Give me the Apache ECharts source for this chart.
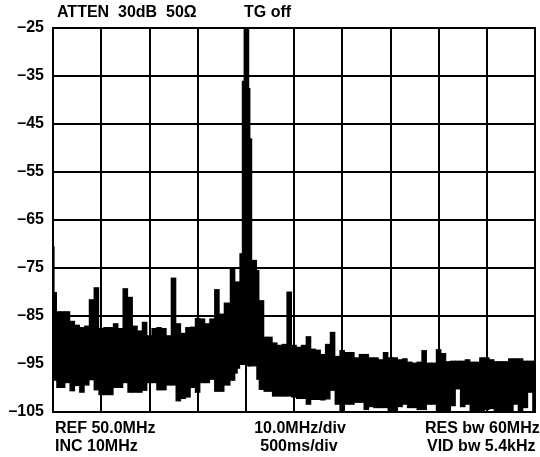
<!DOCTYPE html>
<html>
<head>
<meta charset="utf-8">
<script src="https://cdn.jsdelivr.net/npm/echarts@6/dist/echarts.min.js"></script>
<style>
  html, body { margin: 0; padding: 0; background: #fff; }
  #chart { width: 540px; height: 457px; }
</style>
</head>
<body>
<div id="chart"></div>
<script>
// Frequency points (MHz) of the trace
const freq = [
  10, 10.5, 11, 12, 13, 14, 15, 16, 17, 18, 19,
  20, 21, 22, 23, 24, 25, 26, 27, 28, 29,
  30, 31, 32, 33, 34, 35, 36, 37, 38, 39,
  40, 41, 42, 43, 44, 45, 46, 46.5, 47, 47.5,
  48, 48.5, 49, 49.5, 49.75, 50, 50.25, 50.5, 50.75, 51,
  51.5, 52, 52.5, 53, 53.5, 54, 55, 56, 57, 58,
  59, 60, 61, 62, 63, 64, 65, 66, 67, 68,
  69, 70, 71, 72, 73, 74, 75, 76, 77, 78,
  79, 80, 81, 82, 83, 84, 85, 86, 87, 88,
  89, 90, 91, 92, 93, 94, 95, 96, 97, 98,
  99, 100, 101, 102, 103, 104, 105, 106, 107, 108,
  109, 110
];
// Upper envelope of the noisy trace (dB)
const upperDb = [
  -70.5, -80, -84, -84, -84, -86, -86.8, -87.3, -87, -81.5, -79,
  -87.5, -87.3, -87.3, -86.5, -87.5, -79.2, -81, -87, -88, -86.2,
  -89, -87.5, -87.3, -87.5, -89, -77, -86.5, -88.5, -87.3, -87.2,
  -85.4, -85.5, -86.5, -85.5, -79.4, -84.5, -82.2, -82.2, -75.2, -75.2,
  -77.8, -77.8, -71.9, -36, -25, -25, -25, -25, -37.5, -48,
  -73.3, -73.3, -75.4, -81.7, -81.7, -89.3, -89.3, -90.5, -91, -90.8,
  -79.9, -91, -91.4, -91, -89.2, -91.8, -92, -92.9, -90.8, -88.3,
  -93.3, -92.1, -92.5, -92.5, -93.6, -92.9, -92.9, -93.6, -93.6, -94,
  -92.5, -93.6, -93.6, -94, -93.8, -94.5, -94.7, -94.5, -92.1, -94.7,
  -94.7, -91.9, -92.7, -94.4, -94.3, -94.3, -94.3, -94, -94.5, -94.5,
  -93.6, -93.6, -94, -94.4, -94.4, -94.4, -93.8, -93.8, -93.8, -94.3,
  -94.3, -94.3
];
// Lower envelope of the noisy trace (dB)
const lowerDb = [
  -97.3, -98.5, -100, -100, -99, -100.7, -99.6, -101, -99.5, -98.4, -100.5,
  -101.5, -101.5, -101.5, -100, -100, -99, -101, -101, -101, -100.6,
  -99, -99, -100.5, -100.5, -99.5, -99.5, -102.8, -102.3, -102, -100,
  -101, -99, -99, -98.3, -100.8, -100.8, -99.5, -99.5, -98.5, -98.5,
  -97, -96, -95, -94.8, -95, -95, -95, -95.5, -95.5, -95.5,
  -95.5, -95.5, -98.3, -100.4, -100.4, -100.8, -100.8, -101.8, -101.8, -101.8,
  -101.8, -102, -102.3, -102.3, -103.5, -102.5, -102.5, -102.6, -102.4, -100.6,
  -103.5, -105, -103.5, -103.5, -103.1, -103.1, -104.6, -104, -104.2, -104.2,
  -104.2, -105, -105, -104, -103.5, -104.2, -104.2, -104.6, -104.6, -103.5,
  -103.5, -105, -105, -105, -103.8, -100.3, -104, -103.5, -105, -104.8,
  -104.8, -104.6, -104.4, -105, -105, -105, -105, -103.5, -105, -104.2,
  -101, -105
];
// Axis ticks
const yTicks = [-105, -95, -85, -75, -65, -55, -45, -35, -25];
const xRange = [10, 110];
const xStep = 10;

// Annotation texts
const topLeftText = 'ATTEN  30dB  50\u03A9';
const topMidText = 'TG off';
const bottomTexts = [
  ['REF 50.0MHz', 'INC 10MHz'],
  ['10.0MHz/div', '500ms/div'],
  ['RES bw 60MHz', 'VID bw 5.4kHz']
];

const font = 'bold 16px "Liberation Sans", Arial, sans-serif';

// Each trace sample becomes a cell spanning half way to its neighbours
const traceData = freq.map((f, i) => {
  const left = i === 0 ? f : (freq[i - 1] + f) / 2;
  const right = i === freq.length - 1 ? f : (freq[i + 1] + f) / 2;
  return [f, lowerDb[i], upperDb[i], left, right];
});

const chart = echarts.init(document.getElementById('chart'), null, { renderer: 'canvas' });
chart.setOption({
  animation: false,
  backgroundColor: '#fff',
  grid: {
    left: 53, top: 28, width: 482, height: 384,
    show: true, borderColor: '#000', borderWidth: 2, backgroundColor: 'transparent'
  },
  xAxis: {
    type: 'value', min: xRange[0], max: xRange[1], interval: xStep,
    axisLine: { show: false }, axisTick: { show: false }, axisLabel: { show: false },
    splitLine: { show: true, lineStyle: { color: '#000', width: 2 } }
  },
  yAxis: {
    type: 'value', min: yTicks[0], max: yTicks[yTicks.length - 1], interval: 10,
    axisLine: { show: false }, axisTick: { show: false },
    axisLabel: {
      margin: 9, color: '#000', fontSize: 16, fontWeight: 'bold',
      fontFamily: '"Liberation Sans", Arial, sans-serif',
      formatter: v => String(v).replace('-', '\u2013')
    },
    splitLine: { show: true, lineStyle: { color: '#000', width: 2 } }
  },
  series: [
    {
      type: 'custom',
      data: traceData,
      encode: { x: [0, 3, 4], y: [1, 2] },
      clip: true,
      renderItem: function (params, api) {
        const lo = api.coord([api.value(3), api.value(1)]);
        const hi = api.coord([api.value(4), api.value(2)]);
        const x0 = Math.min(lo[0], hi[0]) - 0.4;
        const x1 = Math.max(lo[0], hi[0]) + 0.4;
        const y0 = Math.min(lo[1], hi[1]);
        const y1 = Math.max(lo[1], hi[1]);
        return {
          type: 'rect',
          shape: { x: x0, y: y0, width: x1 - x0, height: y1 - y0 },
          style: { fill: '#000' }
        };
      }
    }
  ],
  graphic: [
    { type: 'text', left: 57, top: 5, style: { text: topLeftText, font: font, fill: '#000' } },
    { type: 'text', left: 244, top: 5, style: { text: topMidText, font: font, fill: '#000' } },
    { type: 'text', left: 55, top: 421, style: { text: bottomTexts[0][0], font: font, fill: '#000' } },
    { type: 'text', left: 55, top: 439, style: { text: bottomTexts[0][1], font: font, fill: '#000' } },
    { type: 'text', x: 300, y: 429, style: { text: bottomTexts[1][0], font: font, fill: '#000', textAlign: 'center', textVerticalAlign: 'middle' } },
    { type: 'text', x: 299, y: 447, style: { text: bottomTexts[1][1], font: font, fill: '#000', textAlign: 'center', textVerticalAlign: 'middle' } },
    { type: 'text', left: 425, top: 421, style: { text: bottomTexts[2][0], font: font, fill: '#000' } },
    { type: 'text', left: 427, top: 439, style: { text: bottomTexts[2][1], font: font, fill: '#000' } }
  ]
});
</script>
</body>
</html>
